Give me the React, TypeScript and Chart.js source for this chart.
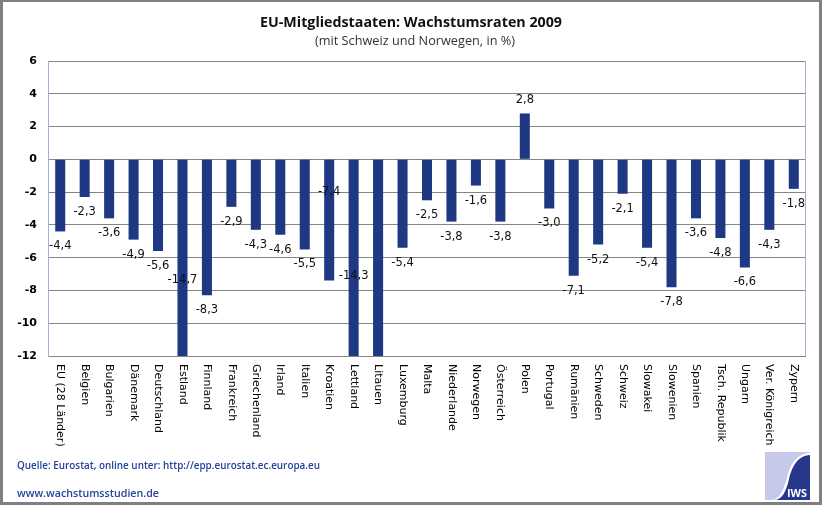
import React, { useEffect, useRef } from "react";
import { Chart, registerables } from "chart.js";

Chart.register(...registerables);

const categories = [
  "EU (28 Länder)", "Belgien", "Bulgarien", "Dänemark", "Deutschland", "Estland",
  "Finnland", "Frankreich", "Griechenland", "Irland", "Italien", "Kroatien",
  "Lettland", "Litauen", "Luxemburg", "Malta", "Niederlande", "Norwegen",
  "Österreich", "Polen", "Portugal", "Rumänien", "Schweden", "Schweiz",
  "Slowakei", "Slowenien", "Spanien", "Tsch. Republik", "Ungarn",
  "Ver. Königreich", "Zypern",
];

const growth2009 = [
  -4.4, -2.3, -3.6, -4.9, -5.6, -14.7,
  -8.3, -2.9, -4.3, -4.6, -5.5, -7.4,
  -14.3, -14.8, -5.4, -2.5, -3.8, -1.6,
  -3.8, 2.8, -3.0, -7.1, -5.2, -2.1,
  -5.4, -7.8, -3.6, -4.8, -6.6,
  -4.3, -1.8,
];

// label placement: "end" = outside bar end, "center" = middle of full bar,
// number = value on the y scale where the label sits, "none" = no label
const labelPlacement: (string | number)[] = [
  "end", "end", "end", "end", "end", "center",
  "end", "end", "end", "end", "end", -2.0,
  "center", "none", "end", "end", "end", "end",
  "end", "end", "end", "end", "end", "end",
  "end", "end", "end", "end", "end",
  "end", "end",
];

const yMin = -12;
const yMax = 6;
const yStep = 2;

const titleText = "EU-Mitgliedstaaten: Wachstumsraten 2009";
const subtitleText = "(mit Schweiz und Norwegen, in %)";
const sourceText = "Quelle: Eurostat, online unter: http://epp.eurostat.ec.europa.eu";
const siteText = "www.wachstumsstudien.de";

const BAR = "#1e3883";

function fitText(ctx: CanvasRenderingContext2D, text: string, x: number, y: number, width: number) {
  const w = ctx.measureText(text).width;
  ctx.save();
  ctx.translate(x, y);
  ctx.scale(width / w, 1);
  ctx.textAlign = "left";
  ctx.fillText(text, 0, 0);
  ctx.restore();
}

const decorPlugin = {
  id: "decor",
  beforeDraw(chart: any) {
    const ctx = chart.ctx as CanvasRenderingContext2D;
    ctx.save();
    ctx.fillStyle = "#ffffff";
    ctx.fillRect(0, 0, chart.width, chart.height);
    ctx.restore();
  },
  afterDatasetsDraw(chart: any) {
    const ctx = chart.ctx as CanvasRenderingContext2D;
    const xs = chart.scales.x;
    const ys = chart.scales.y;
    ctx.save();
    ctx.font = "11.5px 'DejaVu Sans'";
    ctx.fillStyle = "#111111";
    ctx.textAlign = "center";
    ctx.textBaseline = "middle";
    growth2009.forEach((v, i) => {
      const mode = labelPlacement[i];
      if (mode === "none") return;
      const x = xs.getPixelForValue(i);
      let y: number;
      if (mode === "center") y = ys.getPixelForValue(v / 2);
      else if (typeof mode === "number") y = ys.getPixelForValue(mode);
      else y = v < 0 ? ys.getPixelForValue(v) + 15 : ys.getPixelForValue(v) - 13;
      ctx.fillText(String(v.toFixed(1)).replace(".", ","), x, y);
    });
    ctx.restore();
  },
  afterDraw(chart: any) {
    const ctx = chart.ctx as CanvasRenderingContext2D;
    const xs = chart.scales.x;
    const area = chart.chartArea;
    ctx.save();

    // right border of plot area
    ctx.strokeStyle = "#a3aed6";
    ctx.lineWidth = 1;
    ctx.beginPath();
    ctx.moveTo(Math.round(area.right) - 0.5, area.top);
    ctx.lineTo(Math.round(area.right) - 0.5, area.bottom);
    ctx.stroke();

    // x labels (rotated clockwise, reading downward)
    ctx.font = "11px 'DejaVu Sans'";
    ctx.fillStyle = "#000000";
    ctx.textAlign = "left";
    ctx.textBaseline = "middle";
    categories.forEach((c, i) => {
      const x = xs.getPixelForValue(i);
      ctx.save();
      ctx.translate(x, area.bottom + 8);
      ctx.rotate(Math.PI / 2);
      ctx.fillText(c, 0, 0);
      ctx.restore();
    });

    // title + subtitle
    ctx.textBaseline = "alphabetic";
    ctx.fillStyle = "#111111";
    ctx.font = "bold 15px 'Open Sans'";
    fitText(ctx, titleText, 260, 27, 302);
    ctx.fillStyle = "#333333";
    ctx.font = "12px 'Open Sans'";
    fitText(ctx, subtitleText, 315, 45, 200);

    // footer
    ctx.fillStyle = "#23449a";
    ctx.font = "600 11px 'Open Sans'";
    fitText(ctx, sourceText, 17, 469, 303);
    fitText(ctx, siteText, 17, 497, 142);

    // logo
    const lx = 765, ly = 452, lw = 45, lh = 48;
    ctx.fillStyle = "#c6c9ea";
    ctx.fillRect(lx, ly, lw, lh);
    ctx.fillStyle = "#ffffff";
    ctx.beginPath();
    ctx.moveTo(lx + lw, ly + 1);
    ctx.bezierCurveTo(lx + 30, ly + 2, lx + 25, ly + 14, lx + 22, ly + 26);
    ctx.bezierCurveTo(lx + 18, ly + 40, lx + 14, ly + lh, lx + 6, ly + lh);
    ctx.lineTo(lx + lw, ly + lh);
    ctx.closePath();
    ctx.fill();
    ctx.fillStyle = "#26378c";
    ctx.beginPath();
    ctx.moveTo(lx + lw, ly + 3);
    ctx.bezierCurveTo(lx + 32, ly + 4, lx + 27, ly + 15, lx + 24, ly + 27);
    ctx.bezierCurveTo(lx + 21, ly + 40, lx + 17, ly + lh, lx + 9, ly + lh);
    ctx.lineTo(lx + lw, ly + lh);
    ctx.closePath();
    ctx.fill();
    ctx.fillStyle = "#ffffff";
    ctx.font = "bold 11px 'Open Sans'";
    fitText(ctx, "IWS", lx + 22, ly + 45, 20);

    // outer frame
    ctx.fillStyle = "#7f7f7f";
    ctx.fillRect(0, 0, chart.width, 2);
    ctx.fillRect(0, 0, 3, chart.height);
    ctx.fillRect(chart.width - 3, 0, 3, chart.height);
    ctx.fillRect(0, chart.height - 3, chart.width, 3);
    ctx.restore();
  },
};

export default function App() {
  const ref = useRef<HTMLCanvasElement | null>(null);
  useEffect(() => {
    const canvas = ref.current;
    if (!canvas) return;
    const chart = new Chart(canvas, {
      type: "bar",
      data: {
        labels: categories,
        datasets: [
          {
            data: growth2009,
            backgroundColor: BAR,
            borderWidth: 0,
            barPercentage: 0.41,
            categoryPercentage: 1,
          },
        ],
      },
      options: {
        animation: false,
        responsive: false,
        maintainAspectRatio: false,
        layout: { padding: { top: 61, bottom: 149, left: 0, right: 16 } },
        plugins: {
          legend: { display: false },
          title: { display: false },
          tooltip: { enabled: false },
        },
        scales: {
          x: { display: false },
          y: {
            min: yMin,
            max: yMax,
            ticks: {
              stepSize: yStep,
              padding: 11,
              color: "#000000",
              font: { family: "'DejaVu Sans'", size: 11, weight: "bold" },
            },
            grid: { color: "#858585", drawTicks: false },
            border: { display: true, color: "#a3aed6" },
            afterFit: (s: any) => {
              s.width = 48;
            },
          },
        },
      },
      plugins: [decorPlugin],
    } as any);
    return () => chart.destroy();
  }, []);
  return (
    <div style={{ position: "fixed", left: 0, top: 0, width: 822, height: 505 }}>
      <canvas ref={ref} width={822} height={505} style={{ display: "block" }} />
    </div>
  );
}
